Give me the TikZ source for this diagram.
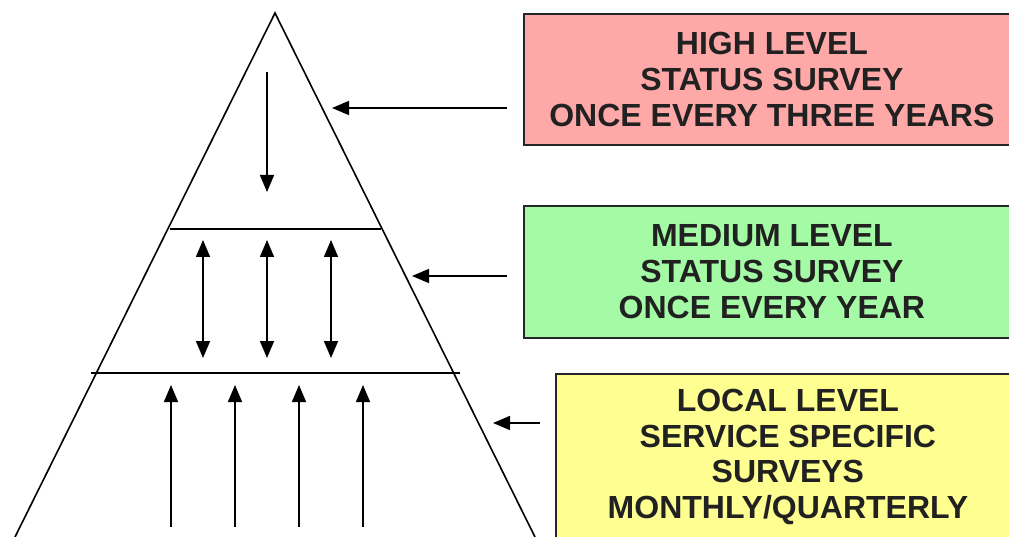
\documentclass[tikz,border=0pt]{standalone}
\usepackage{fontspec}
\setmainfont{Liberation Sans}
\usetikzlibrary{arrows.meta,calc}

\definecolor{highred}{RGB}{255,168,168}
\definecolor{medgreen}{RGB}{165,250,165}
\definecolor{lowyellow}{RGB}{255,255,145}

\tikzset{
  survey/.style={draw=black!85,line width=1.8pt,anchor=north west,inner sep=0pt,
    align=center,text=black!87,font=\bfseries\fontsize{32}{35.8}\selectfont},
  pointer/.style={-{Triangle[length=17pt,width=14pt]}},
  twoway/.style={{Triangle[length=17pt,width=14pt]}-{Triangle[length=17pt,width=14pt]}},
}

\begin{document}
\begin{tikzpicture}[x=1pt,y=-1pt,line width=1.6pt]
  \useasboundingbox (0,0) rectangle (1009,537);
  \clip (0,0) rectangle (1009,537);

  %pyramid
  \coordinate (apex) at (275,13);
  \coordinate (baseL) at (15,537);
  \coordinate (baseR) at (535,537);
  \draw (baseL) -- (apex) -- (baseR);
  \draw (170,229) -- (381,229);
  \draw (91,373) -- (460,373);

  %arrows inside the levels
  \draw[pointer] (267,72) -- (267,192);
  \foreach \x in {203,267,331}
    \draw[twoway] (\x,240) -- (\x,358);
  \foreach \x in {171,235,299,363}
    \draw[pointer] (\x,527) -- (\x,385);

  %survey boxes
  \node[survey,fill=highred,minimum width=496pt,minimum height=131pt] (high) at (523,13)
    {HIGH LEVEL\\STATUS SURVEY\\ONCE EVERY THREE YEARS};
  \node[survey,fill=medgreen,minimum width=496pt,minimum height=132pt] (medium) at (523,205)
    {MEDIUM LEVEL\\STATUS SURVEY\\ONCE EVERY YEAR};
  \node[survey,fill=lowyellow,minimum width=464pt,minimum height=166pt] (local) at (555,373)
    {LOCAL LEVEL\\SERVICE SPECIFIC\\SURVEYS\\MONTHLY/QUARTERLY};

  %pointers to the pyramid
  \coordinate (h) at (332,108);
  \coordinate (m) at (412,276);
  \coordinate (l) at (493,423);
  \draw[pointer] ($(high.west|-h)+(-16,0)$) -- (h);
  \draw[pointer] ($(medium.west|-m)+(-16,0)$) -- (m);
  \draw[pointer] ($(local.west|-l)+(-15,0)$) -- (l);
\end{tikzpicture}
\end{document}
